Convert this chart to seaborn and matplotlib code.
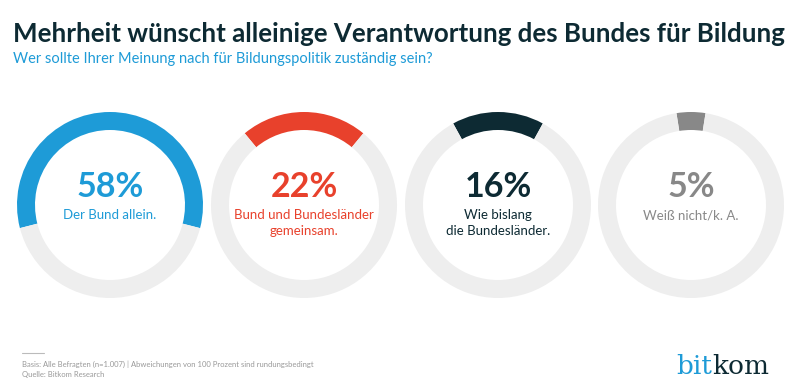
import matplotlib
matplotlib.use("Agg")
import matplotlib.pyplot as plt
import seaborn as sns

# data
categories = ["Der Bund allein.", "Bund und Bundesländer\ngemeinsam.",
              "Wie bislang\ndie Bundesländer.", "Weiß nicht/k. A."]
shares = [58, 22, 16, 5]
colors = ["#1e9bd7", "#e8412c", "#0d2a33", "#888888"]
label_colors = ["#1e9bd7", "#e8412c", "#0d2a33", "#888888"]

title = "Mehrheit wünscht alleinige Verantwortung des Bundes für Bildung"
subtitle = "Wer sollte Ihrer Meinung nach für Bildungspolitik zuständig sein?"
footnote = ("Basis: Alle Befragten (n=1.007) | Abweichungen von 100 Prozent sind rundungsbedingt\n"
            "Quelle: Bitkom Research")

sns.set_theme(style="white")
plt.rcParams['font.family'] = ['Lato', 'DejaVu Sans']

W, H = 798, 389
fig = plt.figure(figsize=(W / 100, H / 100), dpi=100)
fig.patch.set_facecolor("white")

# overlay axes in pixel coords for texts
ax = fig.add_axes([0, 0, 1, 1])
ax.set_xlim(0, W)
ax.set_ylim(H, 0)
ax.axis("off")

ax.text(13, 34, title, fontsize=18.6, fontweight="bold", color="#0d2a33", va="center")
ax.text(13, 59, subtitle, fontsize=10.5, color="#1e9bd7", va="center")

# rings
centers = [110, 304, 498, 691]
cy, R, ring = 205, 93, 18
for cx, v, c, lc, lab in zip(centers, shares, colors, label_colors, categories):
    rax = fig.add_axes([(cx - R) / W, 1 - (cy + R) / H, 2 * R / W, 2 * R / H])
    rax.pie([v, 100 - v], colors=[c, "#eeeeee"], startangle=90 + v * 1.8,
            counterclock=False, radius=1,
            wedgeprops=dict(width=ring / R, edgecolor="none"))
    rax.set_xlim(-1, 1)
    rax.set_ylim(-1, 1)
    rax.axis("off")
    ax.text(cx, 187, f"{v}%", fontsize=24.5, fontweight="bold", color=lc,
            ha="center", va="center")
    ax.text(cx, 209, lab, fontsize=9.5, color=lc, ha="center", va="top",
            linespacing=1.4)

# footer
ax.plot([22, 44], [353, 353], color="#bbbbbb", lw=0.8)
ax.text(22, 369, footnote, fontsize=5.5, color="#999999", va="center", linespacing=1.4)

# logo
ax.text(712, 366, "bit", fontsize=19, color="#1e9bd7", ha="right", va="center",
        family=["DejaVu Serif"])
ax.text(712, 366, "kom", fontsize=19, color="#0d2a33", ha="left", va="center",
        family=["DejaVu Serif"])

fig.savefig("out.png", dpi=100, facecolor="white")
